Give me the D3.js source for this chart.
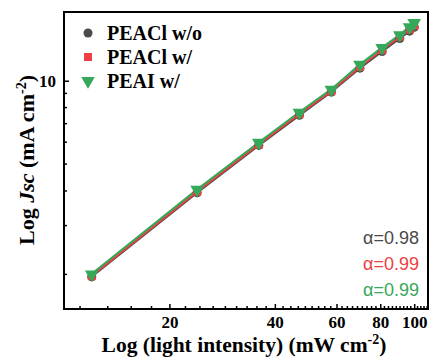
<!DOCTYPE html>
<html>
<head>
<meta charset="utf-8">
<script src="https://cdn.jsdelivr.net/npm/d3@7"></script>
<style>
  body { margin: 0; background: #fff; }
  svg { display: block; }
</style>
</head>
<body>
<div id="chart"></div>
<script>
// light intensity (mW cm-2)
var intensity = [12, 24, 36, 47, 58, 70, 81, 91, 97, 100];
// Jsc (mA cm-2)
var jscWo = [1.96, 3.94, 5.84, 7.5, 9.1, 11.1, 12.75, 14.2, 15.1, 15.6];
var jscCl = [1.97, 3.97, 5.88, 7.56, 9.15, 11.2, 12.9, 14.4, 15.3, 15.8];
var jscI  = [2.0, 4.04, 5.97, 7.67, 9.28, 11.42, 13.14, 14.6, 15.6, 16.15];

var seriesNames = ["PEACl w/o", "PEACl w/", "PEAI w/"];
var alphaLabels = ["\u03b1=0.98", "\u03b1=0.99", "\u03b1=0.99"];
var xMajorTicks = [20, 40, 60, 80, 100];
var yMajorTicks = [10];
var yMinorTicks = [2, 3, 4, 5, 6, 7, 8, 9];

var colors = ["#4a4a4a", "#ef3e42", "#35a85a"];

var SERIF = "'Liberation Serif'";
var SANS = "'Liberation Sans'";

var outerWidth = 430, outerHeight = 362;
var margin = {top: 12, right: 2, bottom: 53, left: 64};
var width = outerWidth - margin.left - margin.right,
    height = outerHeight - margin.top - margin.bottom;

var svg = d3.select("#chart").append("svg")
    .attr("width", outerWidth)
    .attr("height", outerHeight);

var g = svg.append("g")
    .attr("transform", "translate(" + margin.left + "," + margin.top + ")");

function serifText(sel, size) {
    sel.style("font-family", SERIF)
        .style("font-weight", "bold")
        .style("font-size", size + "px")
        .attr("fill", "#000");
}

//////// SCALES ////////
var xScale = d3.scaleLog().domain([10, 109.5]).range([0, width]);
var yScale = d3.scaleLog().domain([1.5, 17.7]).range([height, 0]);

// minor x ticks every 20/9 (as on the original axis)
var xMinorTicks = d3.range(1, 50).map(function(i) { return i * 20 / 9; })
    .filter(function(v) { return v > 10 && v < 109.5; })
    .filter(function(v) { return xMajorTicks.every(function(t) { return Math.abs(t - v) > 0.01; }); });

//////// AXES ////////
var xAxis = g.append("g")
    .attr("transform", "translate(0," + height + ")")
    .call(d3.axisBottom(xScale).tickValues(xMajorTicks).tickFormat(d3.format("d")).tickSizeInner(-5).tickSizeOuter(0).tickPadding(7));
xAxis.select(".domain").remove();
xAxis.selectAll("line").attr("stroke", "#000").attr("stroke-width", 1.5);
xAxis.selectAll("text").call(serifText, 17);

g.append("g")
    .attr("transform", "translate(0," + height + ")")
  .selectAll("line")
  .data(xMinorTicks)
  .enter().append("line")
    .attr("x1", function(d) { return xScale(d); })
    .attr("x2", function(d) { return xScale(d); })
    .attr("y1", 0).attr("y2", -3)
    .attr("stroke", "#000").attr("stroke-width", 1.5);

var yAxis = g.append("g")
    .call(d3.axisLeft(yScale).tickValues(yMajorTicks).tickFormat(d3.format("d")).tickSizeInner(-5).tickSizeOuter(0).tickPadding(8));
yAxis.select(".domain").remove();
yAxis.selectAll("line").attr("stroke", "#000").attr("stroke-width", 1.5);
yAxis.selectAll("text").call(serifText, 17);

g.append("g")
  .selectAll("line")
  .data(yMinorTicks)
  .enter().append("line")
    .attr("y1", function(d) { return yScale(d); })
    .attr("y2", function(d) { return yScale(d); })
    .attr("x1", 0).attr("x2", 3)
    .attr("stroke", "#000").attr("stroke-width", 1.5);

// frame
g.append("rect")
    .attr("width", width).attr("height", height)
    .attr("fill", "none").attr("stroke", "#000").attr("stroke-width", 2);

//////// LINES AND MARKERS ////////
var allSeries = [jscWo, jscCl, jscI];
var data = allSeries.map(function(vals) {
    return vals.map(function(v, i) { return {x: intensity[i], y: v}; });
});

var line = d3.line()
    .x(function(d) { return xScale(d.x); })
    .y(function(d) { return yScale(d.y); });

var lineWidths = [2, 1.5, 2.8];
[0, 2, 1].forEach(function(k) {
    g.append("path")
        .datum(data[k])
        .attr("d", line)
        .attr("fill", "none")
        .attr("stroke", colors[k])
        .attr("stroke-width", lineWidths[k]);
});

var symbols = [d3.symbolCircle, d3.symbolSquare, d3.symbolTriangle];
var symSizes = [64, 64, 80];

function drawMarker(sel, k) {
    sel.attr("d", d3.symbol().type(symbols[k]).size(symSizes[k]))
        .attr("fill", colors[k]);
}

[0, 1, 2].forEach(function(k) {
    g.append("g").selectAll("path")
        .data(data[k])
        .enter().append("path")
        .attr("transform", function(d) {
            return "translate(" + xScale(d.x) + "," + yScale(d.y) + ")" + (k === 2 ? " rotate(180)" : "");
        })
        .call(drawMarker, k);
});

//////// LEGEND ////////
var legend = g.append("g")
  .selectAll("g")
  .data(seriesNames)
  .enter().append("g")
    .attr("transform", function(d, i) { return "translate(24," + (21 + i * 24) + ")"; });

legend.append("path")
    .each(function(d, i) {
        d3.select(this).call(drawMarker, i)
            .attr("transform", i === 2 ? "rotate(180)" : null);
    });

legend.append("text")
    .attr("x", 19)
    .attr("dy", "0.33em")
    .call(serifText, 20)
    .text(function(d) { return d; });

// alpha values
g.append("g")
  .selectAll("text")
  .data(alphaLabels)
  .enter().append("text")
    .attr("x", width - 9)
    .attr("y", function(d, i) { return 232 + i * 26; })
    .attr("text-anchor", "end")
    .style("font-family", SANS)
    .style("font-size", "18px")
    .attr("fill", function(d, i) { return colors[i]; })
    .text(function(d) { return d; });

//////// AXIS TITLES ////////
var xTitle = svg.append("text")
    .attr("x", margin.left + width / 2 - 2)
    .attr("y", 352)
    .attr("text-anchor", "middle")
    .call(serifText, 21.5);
xTitle.append("tspan").text("Log (light intensity) (mW cm");
xTitle.append("tspan").style("font-size", "14px").attr("dy", -8).text("-2");
xTitle.append("tspan").attr("dy", 8).text(")");

var yTitle = svg.append("text")
    .attr("transform", "translate(34,160) rotate(-90)")
    .attr("text-anchor", "middle")
    .call(serifText, 22);
yTitle.append("tspan").text("Log ");
yTitle.append("tspan").style("font-style", "italic").text("Jsc");
yTitle.append("tspan").text(" (mA cm");
yTitle.append("tspan").style("font-size", "14px").attr("dy", -8).text("-2");
yTitle.append("tspan").attr("dy", 8).text(")");
</script>
</body>
</html>
